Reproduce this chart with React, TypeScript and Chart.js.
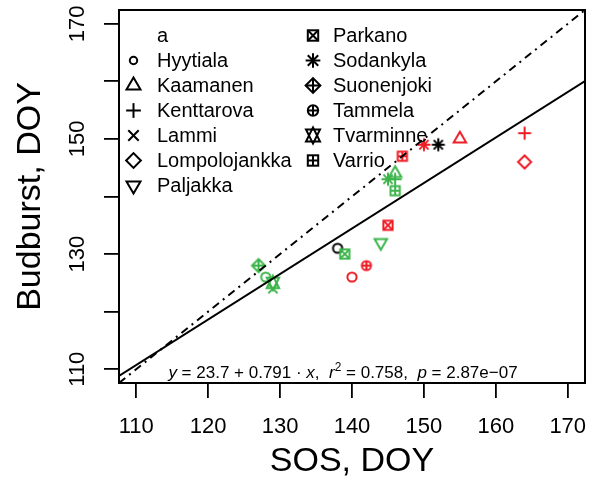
import React, { useEffect, useRef } from 'react';
import { Chart, registerables } from 'chart.js';

Chart.register(...registerables);

const FONT = "'Liberation Sans', Arial, Helvetica, sans-serif";

// ---------- data ----------
const legendTitle = 'a';
const legendSites = ['Hyytiala', 'Kaamanen', 'Kenttarova', 'Lammi', 'Lompolojankka', 'Paljakka',
  'Parkano', 'Sodankyla', 'Suonenjoki', 'Tammela', 'Tvarminne', 'Varrio'];
const siteSymbols = ['circle', 'triUp', 'plus', 'cross', 'diamond', 'triDown',
  'squareX', 'asterisk', 'diamondPlus', 'circlePlus', 'sextile', 'squarePlus'];

const blackSites = ['Hyytiala', 'Sodankyla'];
const blackSOS = [138, 152];
const blackBudburst = [131, 149];

const redSites = ['Hyytiala', 'Tammela', 'Parkano', 'Varrio', 'Sodankyla', 'Kaamanen', 'Kenttarova', 'Lompolojankka'];
const redSOS = [140, 142, 145, 147, 150, 155, 164, 164];
const redBudburst = [126, 128, 135, 147, 149, 150, 151, 146];

const greenSites = ['Suonenjoki', 'Hyytiala', 'Tvarminne', 'Lammi', 'Parkano', 'Paljakka', 'Sodankyla', 'Kaamanen', 'Kenttarova', 'Varrio'];
const greenSOS = [127, 128, 129, 129, 139, 144, 145, 146, 146, 146];
const greenBudburst = [128, 126, 125, 124, 130, 132, 143, 144, 143, 141];

const xTickValues = [110, 120, 130, 140, 150, 160, 170];
const yTickValues = [110, 120, 130, 140, 150, 160, 170];
const yTickLabels = ['110', '', '130', '', '150', '', '170'];

const axisMin = 107.6;
const axisMax = 172.4;

const regIntercept = 23.7;
const regSlope = 0.791;
const regR2 = '0.758';
const regP = '2.87e\u221207';

const COLORS = { black: '#000000', red: '#EE1C25', green: '#3CB44A' };

// ---------- symbol drawing (R pch-like) ----------
function drawSymbol(ctx: CanvasRenderingContext2D, shape: string, x: number, y: number, R: number,
  color: string, lw: number, circleR?: number) {
  ctx.save();
  ctx.strokeStyle = color;
  ctx.lineWidth = lw;
  ctx.lineJoin = 'miter';
  ctx.lineCap = 'butt';
  const line = (x1: number, y1: number, x2: number, y2: number) => {
    ctx.beginPath(); ctx.moveTo(x1, y1); ctx.lineTo(x2, y2); ctx.stroke();
  };
  const poly = (pts: number[][]) => {
    ctx.beginPath();
    pts.forEach(([px, py], i) => (i ? ctx.lineTo(px, py) : ctx.moveTo(px, py)));
    ctx.closePath(); ctx.stroke();
  };
  const circle = (r: number) => { ctx.beginPath(); ctx.arc(x, y, r, 0, Math.PI * 2); ctx.stroke(); };
  const plus = (h: number) => { line(x - h, y, x + h, y); line(x, y - h, x, y + h); };
  const cross = (h: number) => { line(x - h, y - h, x + h, y + h); line(x - h, y + h, x + h, y - h); };
  const square = (h: number) => { ctx.strokeRect(x - h, y - h, 2 * h, 2 * h); };
  const diamond = (h: number) => poly([[x - h, y], [x, y - h], [x + h, y], [x, y + h]]);
  const TRC0 = Math.sqrt(4 * Math.PI / (3 * Math.sqrt(3)));
  const TRC1 = TRC0 * Math.sqrt(3) / 2;
  const TRC2 = TRC0 / 2;
  const S2 = Math.SQRT2;
  switch (shape) {
    case 'circle': circle(circleR ?? R); break;
    case 'triUp': { const r = TRC0 * R, yc = TRC2 * R, xc = TRC1 * R; poly([[x, y - r], [x + xc, y + yc], [x - xc, y + yc]]); break; }
    case 'triDown': { const r = TRC0 * R, yc = TRC2 * R, xc = TRC1 * R; poly([[x, y + r], [x + xc, y - yc], [x - xc, y - yc]]); break; }
    case 'plus': plus(S2 * R); break;
    case 'cross': cross(R); break;
    case 'diamond': diamond(S2 * R); break;
    case 'squareX': square(R); cross(R); break;
    case 'asterisk': cross(R); plus(S2 * R); break;
    case 'diamondPlus': diamond(S2 * R); plus(S2 * R); break;
    case 'circlePlus': circle(R); plus(R); break;
    case 'sextile': {
      const r = TRC0 * R; let yc = TRC2 * R; yc = 0.5 * (yc + r); const xc = TRC1 * R;
      poly([[x, y - r], [x + xc, y + yc], [x - xc, y + yc]]);
      poly([[x, y + r], [x + xc, y - yc], [x - xc, y - yc]]);
      break;
    }
    case 'squarePlus': square(R); plus(R); break;
  }
  ctx.restore();
}

const symbolCache: Record<string, HTMLCanvasElement> = {};
function symbolCanvas(site: string, color: string): HTMLCanvasElement {
  const key = site + '|' + color;
  if (symbolCache[key]) return symbolCache[key];
  const c = document.createElement('canvas');
  c.width = 24; c.height = 24;
  const ctx = c.getContext('2d')!;
  const shape = siteSymbols[legendSites.indexOf(site)];
  drawSymbol(ctx, shape, 12, 12, 4.6, color, 2);
  symbolCache[key] = c;
  return c;
}

function groupData(sos: number[], bud: number[]) {
  return sos.map((v, i) => ({ x: v, y: bud[i] }));
}

const overlayPlugin = {
  id: 'overlay',
  afterDraw(chart: any) {
    const { ctx, chartArea } = chart;
    const { left, top, right, bottom } = chartArea;
    ctx.save();
    // box
    ctx.strokeStyle = '#000';
    ctx.lineWidth = 2;
    ctx.strokeRect(left, top, right - left, bottom - top);

    // legend
    const rowY0 = top + 25.5;
    const rowStep = 25;
    const col1Sym = left + 14.5, col1Text = left + 38;
    const col2Sym = left + 194, col2Text = left + 214;
    ctx.fillStyle = '#000';
    ctx.font = `20px ${FONT}`;
    ctx.textBaseline = 'middle';
    ctx.textAlign = 'left';
    const entries = [legendTitle, ...legendSites];
    const perCol = 7;
    entries.forEach((label, i) => {
      const col = Math.floor(i / perCol);
      const row = i % perCol;
      const yy = rowY0 + row * rowStep;
      const sx = col === 0 ? col1Sym : col2Sym;
      const tx = col === 0 ? col1Text : col2Text;
      if (i > 0) {
        const shape = siteSymbols[i - 1];
        drawSymbol(ctx, shape, sx, yy, 5.2, '#000', 2, 3.7);
      }
      ctx.fillText(label, tx, yy + 1);
    });

    // regression equation (plotmath-like)
    const base = 17;
    const segs: { t: string; it?: boolean; sup?: boolean }[] = [
      { t: 'y', it: true },
      { t: ' = ' + regIntercept + ' + ' + regSlope + ' \u00b7 ' },
      { t: 'x', it: true },
      { t: ',  ' },
      { t: 'r', it: true },
      { t: '2', sup: true },
      { t: ' = ' + regR2 + ',  ' },
      { t: 'p', it: true },
      { t: ' = ' + regP },
    ];
    const fontFor = (s: any) => s.sup ? `${base * 0.7}px ${FONT}` : `${s.it ? 'italic ' : ''}${base}px ${FONT}`;
    let total = 0;
    segs.forEach((s) => { ctx.font = fontFor(s); total += ctx.measureText(s.t).width; });
    const cx = (left + right) / 2 - 9;
    let xx = cx - total / 2;
    const by = bottom - 5;
    ctx.textBaseline = 'alphabetic';
    segs.forEach((s) => {
      ctx.font = fontFor(s);
      ctx.fillText(s.t, xx, s.sup ? by - 7 : by);
      xx += ctx.measureText(s.t).width;
    });
    ctx.restore();
  },
};

export default function App() {
  const ref = useRef<HTMLCanvasElement>(null);
  useEffect(() => {
    if (!ref.current) return;
    Chart.defaults.font.family = FONT;
    Chart.defaults.color = '#000';
    const scatterDs = (sites: string[], sos: number[], bud: number[], color: string) => ({
      type: 'scatter' as const,
      data: groupData(sos, bud),
      pointStyle: sites.map((s) => symbolCanvas(s, color)),
      pointRadius: 4,
      borderColor: color,
      backgroundColor: color,
    });
    const chart = new Chart(ref.current, {
      type: 'scatter',
      data: {
        datasets: [
          {
            data: [
              { x: axisMin, y: regIntercept + regSlope * axisMin },
              { x: axisMax, y: regIntercept + regSlope * axisMax },
            ],
            showLine: true, borderColor: '#000', borderWidth: 2, pointRadius: 0, fill: false,
          } as any,
          {
            data: [{ x: axisMin, y: axisMin }, { x: axisMax, y: axisMax }],
            showLine: true, borderColor: '#000', borderWidth: 2, pointRadius: 0, fill: false,
            borderDash: [8, 5, 2, 5],
          } as any,
          scatterDs(greenSites, greenSOS, greenBudburst, COLORS.green),
          scatterDs(redSites, redSOS, redBudburst, COLORS.red),
          scatterDs(blackSites, blackSOS, blackBudburst, COLORS.black),
        ],
      },
      options: {
        animation: false,
        responsive: true,
        maintainAspectRatio: false,
        events: [],
        layout: { padding: { left: 10.6, right: 7, top: 10, bottom: 6.6 } },
        plugins: { legend: { display: false }, tooltip: { enabled: false } },
        scales: {
          x: {
            type: 'linear', position: 'bottom', min: axisMin, max: axisMax,
            afterBuildTicks: (s: any) => { s.ticks = xTickValues.map((v) => ({ value: v })); },
            afterFit: (s: any) => { s.height = 99.4; s.paddingLeft = 0; s.paddingRight = 0; },
            ticks: {
              autoSkip: false, maxRotation: 0, minRotation: 0, padding: 16,
              font: { size: 22, family: FONT }, color: '#000',
              callback: (v: any) => String(v),
            },
            grid: { drawOnChartArea: false, drawTicks: true, tickLength: 15, color: '#000', lineWidth: 1.8 },
            border: { display: false },
            title: { display: true, text: 'SOS, DOY', font: { size: 34, family: FONT }, color: '#000', padding: 0 },
          },
          y: {
            type: 'linear', position: 'left', min: axisMin, max: axisMax,
            afterBuildTicks: (s: any) => { s.ticks = yTickValues.map((v) => ({ value: v })); },
            afterFit: (s: any) => { s.width = 108.4; s.paddingTop = 0; s.paddingBottom = 0; },
            ticks: {
              autoSkip: false, minRotation: 90, maxRotation: 90, padding: 8, crossAlign: 'center',
              font: { size: 22, family: FONT }, color: '#000',
              callback: (v: any) => yTickLabels[yTickValues.indexOf(Number(v))] ?? '',
            },
            grid: { drawOnChartArea: false, drawTicks: true, tickLength: 15, color: '#000', lineWidth: 1.8 },
            border: { display: false },
            title: { display: true, text: 'Budburst, DOY', font: { size: 34, family: FONT }, color: '#000', padding: 0 },
          },
        },
      } as any,
      plugins: [overlayPlugin],
    });
    return () => chart.destroy();
  }, []);
  return (
    <div style={{ position: 'fixed', left: 0, top: 0, width: 592, height: 489, background: '#fff' }}>
      <canvas ref={ref} />
    </div>
  );
}
